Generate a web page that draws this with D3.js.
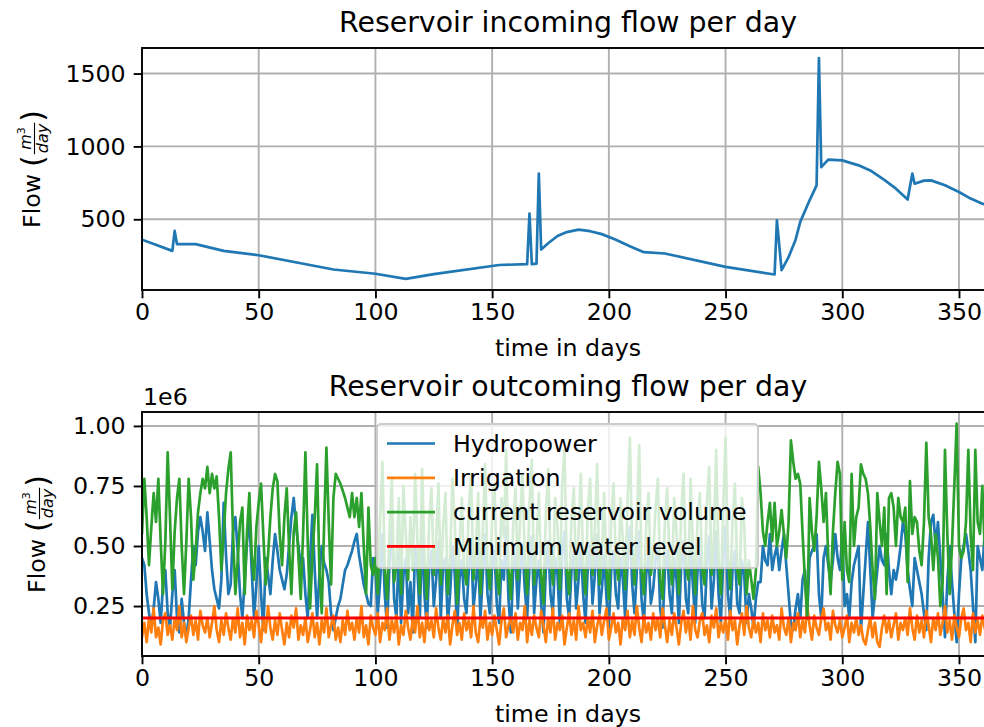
<!DOCTYPE html>
<html>
<head>
<meta charset="utf-8">
<script src="https://cdn.jsdelivr.net/npm/d3@7/dist/d3.min.js"></script>
<style>
	body { margin: 0; background: #fff; }
	svg { display: block; font-family: "DejaVu Sans", sans-serif; }
</style>
</head>
<body>
<svg id="chart" width="984" height="727"></svg>
<script>
'use strict';

// ---- data ----------------------------------------------------------------

// incoming flow, m3/day (knots of the curve)
var inflowDays = [0, 13, 14, 15, 23, 35, 50, 82, 100, 113,
	125, 153, 165, 166, 167, 169, 170, 171, 174, 178,
	182, 187, 192, 197, 203, 209, 215, 224, 250, 271,
	272, 274, 277, 280, 282, 286, 289, 290, 291, 294,
	300, 307, 312, 318, 323, 328, 330, 331, 335, 338,
	344, 350, 355, 360, 365];
var inflowValues = [360, 283, 420, 329, 329, 283, 253, 155, 126, 91,
	124, 186, 192, 539, 192, 195, 813, 292, 335, 385,
	412, 429, 418, 398, 360, 315, 274, 265, 173, 121,
	493, 151, 240, 360, 482, 630, 733, 1607, 858, 909,
	904, 870, 835, 770, 710, 635, 813, 744, 765, 767,
	733, 687, 642, 607, 585];

// outgoing flows, one value per day (x 1e6 m3/day)
var hydropower = [
	0.45, 0.42, 0.30, 0.22, 0.16, 0.24, 0.35, 0.28, 0.18, 0.34,
	0.40, 0.22, 0.16, 0.30, 0.40, 0.20, 0.14, 0.28, 0.18, 0.12,
	0.20, 0.36, 0.50, 0.42, 0.56, 0.62, 0.56, 0.48, 0.64, 0.52,
	0.40, 0.32, 0.28, 0.24, 0.36, 0.68, 0.46, 0.30, 0.34, 0.56,
	0.62, 0.48, 0.30, 0.20, 0.36, 0.52, 0.62, 0.40, 0.20, 0.34,
	0.50, 0.30, 0.15, 0.45, 0.38, 0.30, 0.44, 0.55, 0.48, 0.40,
	0.36, 0.32, 0.38, 0.50, 0.62, 0.70, 0.58, 0.50, 0.42, 0.45,
	0.30, 0.20, 0.44, 0.63, 0.40, 0.20, 0.38, 0.50, 0.43, 0.40,
	0.35, 0.22, 0.15, 0.20, 0.25, 0.28, 0.34, 0.40, 0.42, 0.45,
	0.48, 0.52, 0.55, 0.46, 0.40, 0.34, 0.30, 0.26, 0.25, 0.45,
	0.40, 0.22, 0.35, 0.55, 0.30, 0.16, 0.42, 0.60, 0.28, 0.20,
	0.48, 0.18, 0.38, 0.45, 0.22, 0.35, 0.14, 0.50, 0.40, 0.20,
	0.55, 0.30, 0.16, 0.40, 0.48, 0.25, 0.36, 0.52, 0.20, 0.42,
	0.45, 0.18, 0.30, 0.50, 0.38, 0.15, 0.36, 0.44, 0.28, 0.22,
	0.40, 0.52, 0.24, 0.34, 0.46, 0.20, 0.38, 0.55, 0.30, 0.22,
	0.42, 0.48, 0.26, 0.18, 0.44, 0.36, 0.58, 0.28, 0.14, 0.40,
	0.46, 0.24, 0.40, 0.50, 0.32, 0.20, 0.42, 0.54, 0.22, 0.36,
	0.44, 0.26, 0.14, 0.40, 0.52, 0.30, 0.22, 0.45, 0.38, 0.18,
	0.46, 0.56, 0.28, 0.20, 0.40, 0.48, 0.24, 0.36, 0.50, 0.30,
	0.18, 0.42, 0.50, 0.26, 0.38, 0.55, 0.22, 0.32, 0.46, 0.28,
	0.16, 0.40, 0.48, 0.30, 0.24, 0.45, 0.36, 0.20, 0.42, 0.58,
	0.34, 0.22, 0.40, 0.56, 0.28, 0.18, 0.38, 0.46, 0.26, 0.32,
	0.44, 0.50, 0.24, 0.16, 0.40, 0.48, 0.30, 0.22, 0.45, 0.36,
	0.18, 0.42, 0.52, 0.28, 0.22, 0.50, 0.34, 0.18, 0.40, 0.46,
	0.26, 0.20, 0.42, 0.54, 0.24, 0.36, 0.56, 0.30, 0.18, 0.44,
	0.58, 0.30, 0.20, 0.40, 0.48, 0.26, 0.22, 0.44, 0.38, 0.18,
	0.30, 0.24, 0.16, 0.28, 0.35, 0.35, 0.50, 0.44, 0.42, 0.55,
	0.40, 0.46, 0.50, 0.40, 0.48, 0.55, 0.42, 0.30, 0.17, 0.15,
	0.24, 0.30, 0.20, 0.36, 0.40, 0.22, 0.45, 0.48, 0.50, 0.55,
	0.30, 0.20, 0.45, 0.50, 0.42, 0.35, 0.44, 0.55, 0.45, 0.40,
	0.55, 0.25, 0.30, 0.20, 0.35, 0.42, 0.46, 0.50, 0.15, 0.30,
	0.45, 0.60, 0.40, 0.20, 0.30, 0.40, 0.50, 0.44, 0.42, 0.55,
	0.40, 0.30, 0.40, 0.36, 0.42, 0.50, 0.60, 0.55, 0.40, 0.32,
	0.25, 0.45, 0.40, 0.35, 0.30, 0.22, 0.15, 0.45, 0.60, 0.63,
	0.50, 0.60, 0.45, 0.30, 0.12, 0.35, 0.50, 0.35, 0.22, 0.10,
	0.30, 0.45, 0.50, 0.55, 0.48, 0.40, 0.25, 0.10, 0.50, 0.45,
	0.40, 0.55, 0.30, 0.45, 0.38
];
var irrigation = [
	0.12, 0.18, 0.10, 0.20, 0.14, 0.24, 0.12, 0.16, 0.09, 0.19,
	0.22, 0.13, 0.17, 0.11, 0.20, 0.15, 0.25, 0.12, 0.18, 0.10,
	0.16, 0.21, 0.13, 0.19, 0.11, 0.23, 0.17, 0.14, 0.20, 0.12,
	0.18, 0.25, 0.15, 0.10, 0.19, 0.13, 0.22, 0.16, 0.11, 0.20,
	0.14, 0.24, 0.12, 0.18, 0.09, 0.21, 0.15, 0.19, 0.12, 0.23,
	0.17, 0.10, 0.20, 0.14, 0.25, 0.16, 0.11, 0.19, 0.13, 0.22,
	0.15, 0.09, 0.18, 0.12, 0.21, 0.16, 0.24, 0.11, 0.17, 0.13,
	0.20, 0.10, 0.15, 0.22, 0.12, 0.18, 0.09, 0.19, 0.14, 0.24,
	0.12, 0.17, 0.21, 0.11, 0.16, 0.10, 0.19, 0.13, 0.23, 0.15,
	0.18, 0.11, 0.20, 0.14, 0.25, 0.12, 0.17, 0.09, 0.21, 0.16,
	0.13, 0.22, 0.10, 0.18, 0.15, 0.24, 0.11, 0.19, 0.14, 0.21,
	0.09, 0.17, 0.13, 0.23, 0.16, 0.11, 0.20, 0.14, 0.25, 0.12,
	0.18, 0.10, 0.22, 0.15, 0.19, 0.12, 0.24, 0.16, 0.11, 0.20,
	0.14, 0.21, 0.09, 0.17, 0.23, 0.13, 0.18, 0.11, 0.22, 0.15,
	0.19, 0.12, 0.25, 0.14, 0.10, 0.20, 0.16, 0.23, 0.11, 0.18,
	0.13, 0.21, 0.15, 0.09, 0.19, 0.24, 0.12, 0.17, 0.20, 0.14,
	0.22, 0.11, 0.18, 0.15, 0.25, 0.10, 0.19, 0.13, 0.21, 0.16,
	0.12, 0.23, 0.17, 0.10, 0.20, 0.14, 0.24, 0.11, 0.18, 0.15,
	0.21, 0.09, 0.16, 0.22, 0.13, 0.19, 0.11, 0.25, 0.15, 0.18,
	0.12, 0.20, 0.14, 0.23, 0.10, 0.17, 0.21, 0.13, 0.19, 0.24,
	0.11, 0.16, 0.22, 0.14, 0.18, 0.09, 0.20, 0.15, 0.23, 0.12,
	0.19, 0.13, 0.25, 0.16, 0.10, 0.21, 0.14, 0.18, 0.11, 0.22,
	0.15, 0.20, 0.12, 0.24, 0.17, 0.10, 0.19, 0.13, 0.22, 0.16,
	0.09, 0.18, 0.23, 0.14, 0.20, 0.11, 0.25, 0.15, 0.12, 0.19,
	0.22, 0.13, 0.17, 0.10, 0.21, 0.16, 0.24, 0.12, 0.18, 0.14,
	0.20, 0.11, 0.23, 0.15, 0.19, 0.09, 0.17, 0.22, 0.13, 0.25,
	0.16, 0.12, 0.20, 0.14, 0.18, 0.10, 0.22, 0.15, 0.19, 0.12,
	0.21, 0.14, 0.17, 0.11, 0.24, 0.16, 0.13, 0.20, 0.10, 0.18,
	0.15, 0.22, 0.12, 0.19, 0.14, 0.25, 0.17, 0.11, 0.21, 0.16,
	0.13, 0.20, 0.24, 0.15, 0.18, 0.11, 0.23, 0.17, 0.14, 0.19,
	0.12, 0.16, 0.21, 0.10, 0.18, 0.14, 0.20, 0.13, 0.17, 0.11,
	0.09, 0.15, 0.20, 0.12, 0.18, 0.10, 0.08, 0.16, 0.21, 0.14,
	0.19, 0.12, 0.17, 0.22, 0.11, 0.18, 0.15, 0.20, 0.13, 0.24,
	0.16, 0.11, 0.21, 0.14, 0.19, 0.12, 0.23, 0.17, 0.10, 0.20,
	0.15, 0.22, 0.13, 0.18, 0.25, 0.14, 0.19, 0.11, 0.21, 0.16,
	0.12, 0.20, 0.24, 0.15, 0.18, 0.10, 0.22, 0.14, 0.19, 0.13,
	0.21, 0.16, 0.12, 0.20, 0.17
];
var reservoirVolume = [
	0.55, 0.78, 0.62, 0.42, 0.58, 0.72, 0.60, 0.78, 0.52, 0.30,
	0.52, 0.89, 0.62, 0.32, 0.56, 0.70, 0.78, 0.50, 0.30, 0.52,
	0.78, 0.62, 0.36, 0.48, 0.64, 0.72, 0.78, 0.74, 0.83, 0.72,
	0.80, 0.74, 0.79, 0.62, 0.40, 0.55, 0.72, 0.82, 0.89, 0.55,
	0.30, 0.44, 0.60, 0.66, 0.30, 0.56, 0.72, 0.46, 0.36, 0.58,
	0.68, 0.76, 0.54, 0.34, 0.46, 0.62, 0.74, 0.80, 0.77, 0.55,
	0.42, 0.62, 0.74, 0.50, 0.30, 0.56, 0.64, 0.46, 0.28, 0.55,
	0.89, 0.52, 0.24, 0.46, 0.62, 0.84, 0.40, 0.22, 0.58, 0.91,
	0.60, 0.34, 0.70, 0.80, 0.78, 0.76, 0.73, 0.70, 0.66, 0.62,
	0.72, 0.62, 0.70, 0.58, 0.72, 0.50, 0.30, 0.66, 0.42, 0.38,
	0.45, 0.30, 0.62, 0.85, 0.40, 0.28, 0.55, 0.78, 0.35, 0.42,
	0.70, 0.30, 0.75, 0.55, 0.36, 0.62, 0.40, 0.80, 0.52, 0.30,
	0.82, 0.46, 0.28, 0.60, 0.74, 0.38, 0.52, 0.76, 0.34, 0.58,
	0.72, 0.30, 0.44, 0.78, 0.60, 0.26, 0.50, 0.70, 0.40, 0.34,
	0.66, 0.80, 0.36, 0.48, 0.72, 0.30, 0.56, 0.84, 0.42, 0.32,
	0.62, 0.76, 0.38, 0.30, 0.70, 0.54, 0.90, 0.40, 0.28, 0.58,
	0.74, 0.36, 0.62, 0.80, 0.44, 0.30, 0.68, 0.86, 0.34, 0.50,
	0.72, 0.38, 0.26, 0.64, 0.82, 0.46, 0.34, 0.70, 0.58, 0.32,
	0.76, 0.90, 0.40, 0.30, 0.62, 0.74, 0.36, 0.54, 0.80, 0.42,
	0.30, 0.66, 0.78, 0.38, 0.56, 0.84, 0.34, 0.46, 0.72, 0.40,
	0.28, 0.60, 0.76, 0.44, 0.36, 0.70, 0.52, 0.32, 0.68, 0.95,
	0.50, 0.34, 0.62, 0.92, 0.40, 0.30, 0.58, 0.72, 0.38, 0.46,
	0.66, 0.78, 0.36, 0.28, 0.60, 0.74, 0.44, 0.34, 0.70, 0.56,
	0.30, 0.64, 0.80, 0.42, 0.36, 0.78, 0.50, 0.30, 0.62, 0.72,
	0.40, 0.34, 0.68, 0.83, 0.38, 0.52, 0.90, 0.44, 0.30, 0.66,
	0.95, 0.46, 0.32, 0.60, 0.76, 0.40, 0.34, 0.70, 0.58, 0.30,
	0.44, 0.36, 0.28, 0.40, 0.83, 0.72, 0.56, 0.50, 0.60, 0.68,
	0.52, 0.68, 0.50, 0.56, 0.65, 0.55, 0.45, 0.60, 0.94, 0.85,
	0.78, 0.80, 0.76, 0.55, 0.36, 0.20, 0.70, 0.56, 0.48, 0.62,
	0.85, 0.74, 0.60, 0.72, 0.45, 0.30, 0.56, 0.72, 0.85, 0.80,
	0.36, 0.60, 0.40, 0.35, 0.80, 0.50, 0.62, 0.66, 0.84, 0.80,
	0.78, 0.72, 0.58, 0.40, 0.28, 0.72, 0.60, 0.50, 0.66, 0.30,
	0.70, 0.72, 0.66, 0.50, 0.70, 0.62, 0.60, 0.66, 0.35, 0.77,
	0.55, 0.62, 0.60, 0.48, 0.42, 0.60, 0.93, 0.62, 0.55, 0.40,
	0.55, 0.45, 0.25, 0.35, 0.90, 0.55, 0.30, 0.50, 0.75, 1.01,
	0.50, 0.45, 0.48, 0.60, 0.90, 0.55, 0.40, 0.90, 0.60, 0.55,
	0.75, 0.50, 0.80, 0.40, 0.60
];
var minLevelDays = [0, 365];
var minLevelValues = [0.2, 0.2];

var dayTicks = [0, 50, 100, 150, 200, 250, 300, 350];
var inflowTicks = [500, 1000, 1500];
var outflowTicks = [0.25, 0.50, 0.75, 1.00];

// ---- layout ---------------------------------------------------------------

var FONT = 23.7, TITLE_FONT = 28.4, LW = 1.9, TICK = 8.3, DATA_LW = 2.7;
var svg = d3.select('#chart');

// x axis runs past the right edge of the picture, like the original crop
var x = d3.scaleLinear().domain([0, 365]).range([142, 994]);

function panel(cfg) {
	var g = svg.append('g');
	var y = d3.scaleLinear().domain(cfg.yDomain).range([cfg.bottom, cfg.top]);
	var x0 = x.range()[0], x1 = x.range()[1];

	svg.append('clipPath').attr('id', 'clip-' + cfg.id)
		.append('rect').attr('x', x0).attr('y', cfg.top).attr('width', x1 - x0).attr('height', cfg.bottom - cfg.top);

	//grid
	var grid = g.append('g').attr('stroke', '#b0b0b0').attr('stroke-width', LW);
	grid.selectAll(null).data(dayTicks).enter().append('line')
		.attr('x1', x).attr('x2', x).attr('y1', cfg.top).attr('y2', cfg.bottom);
	grid.selectAll(null).data(cfg.yTicks).enter().append('line')
		.attr('x1', x0).attr('x2', x1).attr('y1', y).attr('y2', y);

	//series
	var plot = g.append('g').attr('clip-path', 'url(#clip-' + cfg.id + ')');
	cfg.series.forEach(function(s) {
		var line = d3.line()
			.x(function(d, i) { return x(s.days ? s.days[i] : i); })
			.y(function(d) { return y(d); });
		plot.append('path').datum(s.values)
			.attr('d', line)
			.attr('fill', 'none')
			.attr('stroke', s.color)
			.attr('stroke-width', s.width || DATA_LW)
			.attr('stroke-linejoin', 'round');
	});

	//frame
	g.append('rect').attr('x', x0).attr('y', cfg.top).attr('width', x1 - x0).attr('height', cfg.bottom - cfg.top)
		.attr('fill', 'none').attr('stroke', '#000').attr('stroke-width', LW);

	var xa = g.append('g').attr('transform', 'translate(0,' + cfg.bottom + ')')
		.call(d3.axisBottom(x).tickValues(dayTicks).tickSize(TICK).tickSizeOuter(0).tickPadding(5));
	var ya = g.append('g').attr('transform', 'translate(' + x0 + ',0)')
		.call(d3.axisLeft(y).tickValues(cfg.yTicks).tickSize(TICK).tickSizeOuter(0).tickPadding(8).tickFormat(cfg.fmt));
	[xa, ya].forEach(function(a) {
		a.select('.domain').remove();
		a.selectAll('.tick line').attr('stroke', '#000').attr('stroke-width', LW);
		a.selectAll('.tick text').attr('fill', '#000').style('font-size', FONT + 'px').style('font-family', '"DejaVu Sans", sans-serif');
	});

	//titles
	var cx = (x0 + x1) / 2;
	svg.append('text').attr('x', cx).attr('y', cfg.top - 16).attr('text-anchor', 'middle')
		.style('font-size', TITLE_FONT + 'px').text(cfg.title);
	svg.append('text').attr('x', cx).attr('y', cfg.bottom + 66).attr('text-anchor', 'middle')
		.style('font-size', FONT + 'px').text('time in days');
	flowLabel(cfg.labelX, (cfg.top + cfg.bottom) / 2);

	return y;
}

// "Flow (m^3/day)" written the way mathtext sets it
function flowLabel(bx, cy) {
	var outer = svg.append('g').attr('transform', 'translate(' + bx + ',' + cy + ') rotate(-90)');
	var g = outer.append('g');
	var flow = g.append('text').style('font-size', FONT + 'px').text('Flow');
	var cur = flow.node().getComputedTextLength() + 7;
	var lp = g.append('text').attr('x', cur).attr('y', 3).style('font-size', '30px').text('(');
	cur += lp.node().getComputedTextLength() + 1;

	var num = g.append('text').attr('y', -9).style('font-size', '16px').style('font-style', 'italic');
	num.append('tspan').text('m');
	num.append('tspan').attr('dy', -6).style('font-size', '11px').style('font-style', 'normal').text('3');
	var den = g.append('text').attr('y', 7.5).style('font-size', '16px').style('font-style', 'italic').text('day');
	var fw = Math.max(num.node().getComputedTextLength(), den.node().getComputedTextLength()) + 2;
	num.attr('x', cur + (fw - num.node().getComputedTextLength()) / 2);
	den.attr('x', cur + (fw - den.node().getComputedTextLength()) / 2);
	g.append('line').attr('x1', cur).attr('x2', cur + fw).attr('y1', -5.5).attr('y2', -5.5)
		.attr('stroke', '#000').attr('stroke-width', 1.1);
	cur += fw + 1;
	g.append('text').attr('x', cur).attr('y', 3).style('font-size', '30px').text(')');

	var bb = g.node().getBBox();
	g.attr('transform', 'translate(' + (-bb.x - bb.width / 2) + ',0)');
}

var COLORS = { hydro: '#1f77b4', irrigation: '#ff7f0e', volume: '#2ca02c', min: '#ff0000' };

panel({
	id: 'in', top: 48, bottom: 290, yDomain: [14.5, 1675.5], yTicks: inflowTicks,
	fmt: d3.format('d'), labelX: 40, title: 'Reservoir incoming flow per day',
	series: [{ days: inflowDays, values: inflowValues, color: COLORS.hydro }]
});

panel({
	id: 'out', top: 412, bottom: 656, yDomain: [0.042, 1.058], yTicks: outflowTicks,
	fmt: d3.format('.2f'), labelX: 45, title: 'Reservoir outcoming flow per day',
	series: [
		{ values: hydropower, color: COLORS.hydro },
		{ values: irrigation, color: COLORS.irrigation },
		{ values: reservoirVolume, color: COLORS.volume },
		{ days: minLevelDays, values: minLevelValues, color: COLORS.min, width: 2.9 }
	]
});

svg.append('text').attr('x', 143).attr('y', 405).style('font-size', FONT + 'px').text('1e6');

// legend
var legendItems = [
	{ label: 'Hydropower', color: COLORS.hydro },
	{ label: 'Irrigation', color: COLORS.irrigation },
	{ label: 'current reservoir volume', color: COLORS.volume },
	{ label: 'Minimum water level', color: COLORS.min }
];
var lg = svg.append('g').attr('transform', 'translate(377,424)');
lg.append('rect').attr('width', 381).attr('height', 144).attr('rx', 4)
	.attr('fill', '#fff').attr('fill-opacity', 0.8).attr('stroke', '#cccccc').attr('stroke-width', LW);
var row = lg.selectAll('.row').data(legendItems).enter().append('g')
	.attr('transform', function(d, i) { return 'translate(0,' + (19.5 + i * 34.3) + ')'; });
row.append('line').attr('x1', 10).attr('x2', 58).attr('stroke', function(d) { return d.color; }).attr('stroke-width', DATA_LW);
row.append('text').attr('x', 76).attr('dy', '0.35em').style('font-size', FONT + 'px').text(function(d) { return d.label; });
</script>
</body>
</html>
